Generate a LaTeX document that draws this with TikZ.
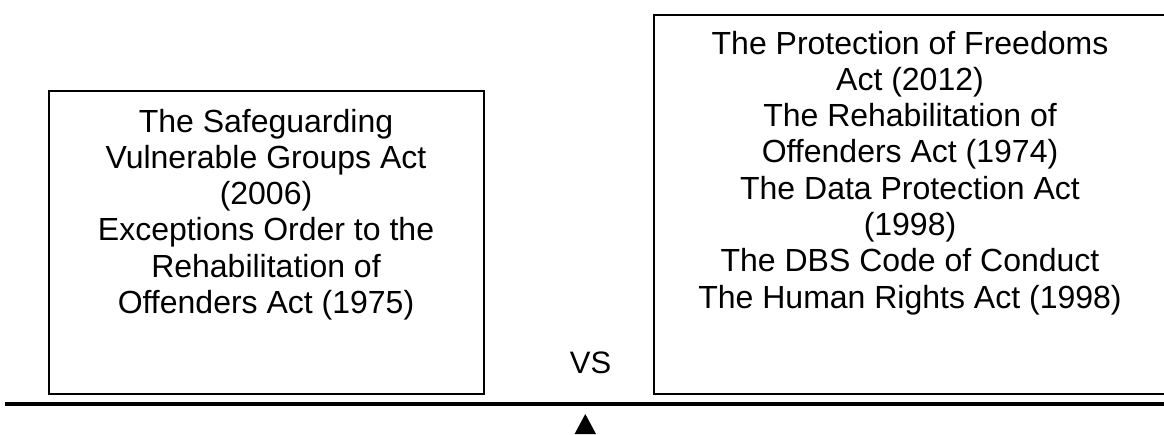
\documentclass[tikz,border=0pt]{standalone}
\usepackage{fontspec}
\setmainfont{Liberation Sans}
\begin{document}
\begin{tikzpicture}[x=1pt,y=-1pt,
  box/.style={draw=black,line width=2pt,fill=none},
  boxtext/.style={inner sep=0pt,align=center,anchor=north,font=\fontsize{32}{36.3}\selectfont},
  plain/.style={inner sep=0pt,font=\fontsize{31}{36}\selectfont}]
\useasboundingbox (0,0) rectangle (1164,434);
\fill[white] (0,0) rectangle (1164,434);
% boxes
\node[box,minimum width=435pt,minimum height=303pt,anchor=north west,inner sep=0pt] (lbox) at (48,90) {};
\node[box,minimum width=518pt,minimum height=379pt,anchor=north west,inner sep=0pt] (rbox) at (653,14) {};
% texts
\node[boxtext] (ltext) at (266,108.7) {The Safeguarding\\Vulnerable Groups Act\\(2006)\\Exceptions Order to the\\Rehabilitation of\\Offenders Act (1975)};
\node[boxtext] (rtext) at (910,30.7) {The Protection of Freedoms\\Act (2012)\\The Rehabilitation of\\Offenders Act (1974)\\The Data Protection Act\\(1998)\\The DBS Code of Conduct\\The Human Rights Act (1998)};
\node[plain,anchor=base] (vs) at (590.5,373) {VS};
% beam and fulcrum
\coordinate (beamL) at (5,404);
\coordinate (beamR) at (1164,404);
\draw[line width=4pt] (beamL) -- (beamR);
\coordinate (apex) at (585.3,414);
\fill (apex) -- (596,434) -- (574.6,434) -- cycle;
\end{tikzpicture}
\end{document}
